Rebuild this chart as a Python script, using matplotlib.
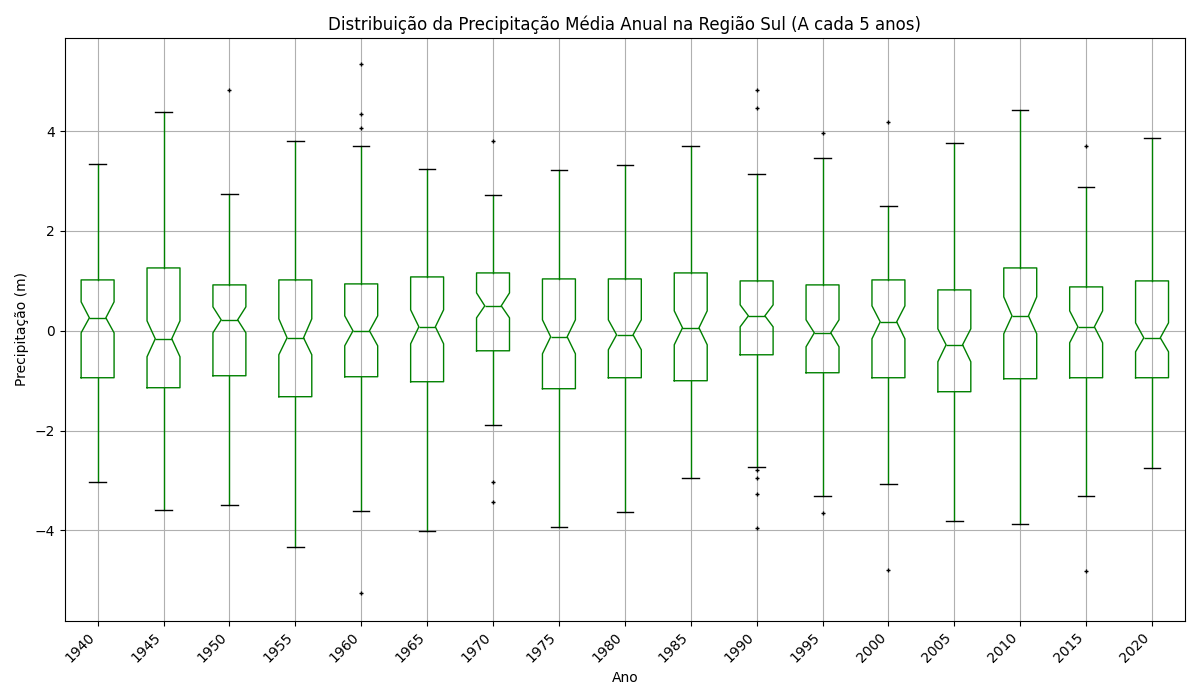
import matplotlib
matplotlib.use("Agg")
import matplotlib.pyplot as plt

years = [1940, 1945, 1950, 1955, 1960, 1965, 1970, 1975, 1980, 1985,
         1990, 1995, 2000, 2005, 2010, 2015, 2020]
q1 = [-0.94, -1.14, -0.90, -1.32, -0.92, -1.02, -0.40, -1.16, -0.94, -1.00,
      -0.48, -0.84, -0.94, -1.22, -0.96, -0.94, -0.94]
med = [0.26, -0.16, 0.22, -0.14, 0.00, 0.08, 0.50, -0.12, -0.08, 0.06,
       0.30, -0.04, 0.18, -0.28, 0.30, 0.08, -0.14]
q3 = [1.02, 1.26, 0.92, 1.02, 0.94, 1.08, 1.16, 1.04, 1.04, 1.16,
      1.00, 0.92, 1.02, 0.82, 1.26, 0.88, 1.00]
whis_lo = [-3.03, -3.59, -3.49, -4.33, -3.61, -4.01, -1.88, -3.93, -3.63, -2.95,
           -2.73, -3.31, -3.07, -3.81, -3.87, -3.31, -2.75]
whis_hi = [3.35, 4.39, 2.75, 3.81, 3.71, 3.25, 2.73, 3.23, 3.33, 3.71,
           3.15, 3.47, 2.50, 3.77, 4.43, 2.89, 3.87]
ci_lo = [-0.04, -0.52, -0.04, -0.48, -0.30, -0.26, 0.26, -0.46, -0.38, -0.28,
         0.08, -0.32, -0.16, -0.62, -0.06, -0.24, -0.42]
ci_hi = [0.58, 0.20, 0.48, 0.24, 0.30, 0.42, 0.76, 0.22, 0.22, 0.40,
         0.52, 0.22, 0.50, 0.04, 0.68, 0.40, 0.16]
fliers = [[], [], [4.83], [], [5.35, 4.35, 4.07, -5.25], [], [3.81, -3.03, -3.43],
          [], [], [], [4.83, 4.47, -2.79, -2.95, -3.27, -3.95], [3.97, -3.65],
          [4.19, -4.79], [], [], [3.71, -4.81], []]

stats = []
for i, y in enumerate(years):
    stats.append(dict(label=str(y), q1=q1[i], med=med[i], q3=q3[i],
                      whislo=whis_lo[i], whishi=whis_hi[i],
                      cilo=ci_lo[i], cihi=ci_hi[i], fliers=fliers[i]))

fig, ax = plt.subplots(figsize=(12, 7), dpi=100)
ax.bxp(stats, shownotches=True, widths=0.5,
       boxprops=dict(color="green"),
       medianprops=dict(color="green"),
       whiskerprops=dict(color="green"),
       capprops=dict(color="black"),
       flierprops=dict(marker="+", markersize=3, markeredgecolor="black"))
ax.grid(True)
ax.set_axisbelow(True)
ax.set_ylim(-5.81, 5.87)
ax.set_title("Distribuição da Precipitação Média Anual na Região Sul (A cada 5 anos)")
ax.set_xlabel("Ano")
ax.set_ylabel("Precipitação (m)")
plt.setp(ax.get_xticklabels(), rotation=45, ha="right")
fig.tight_layout()
fig.savefig("out.png")
